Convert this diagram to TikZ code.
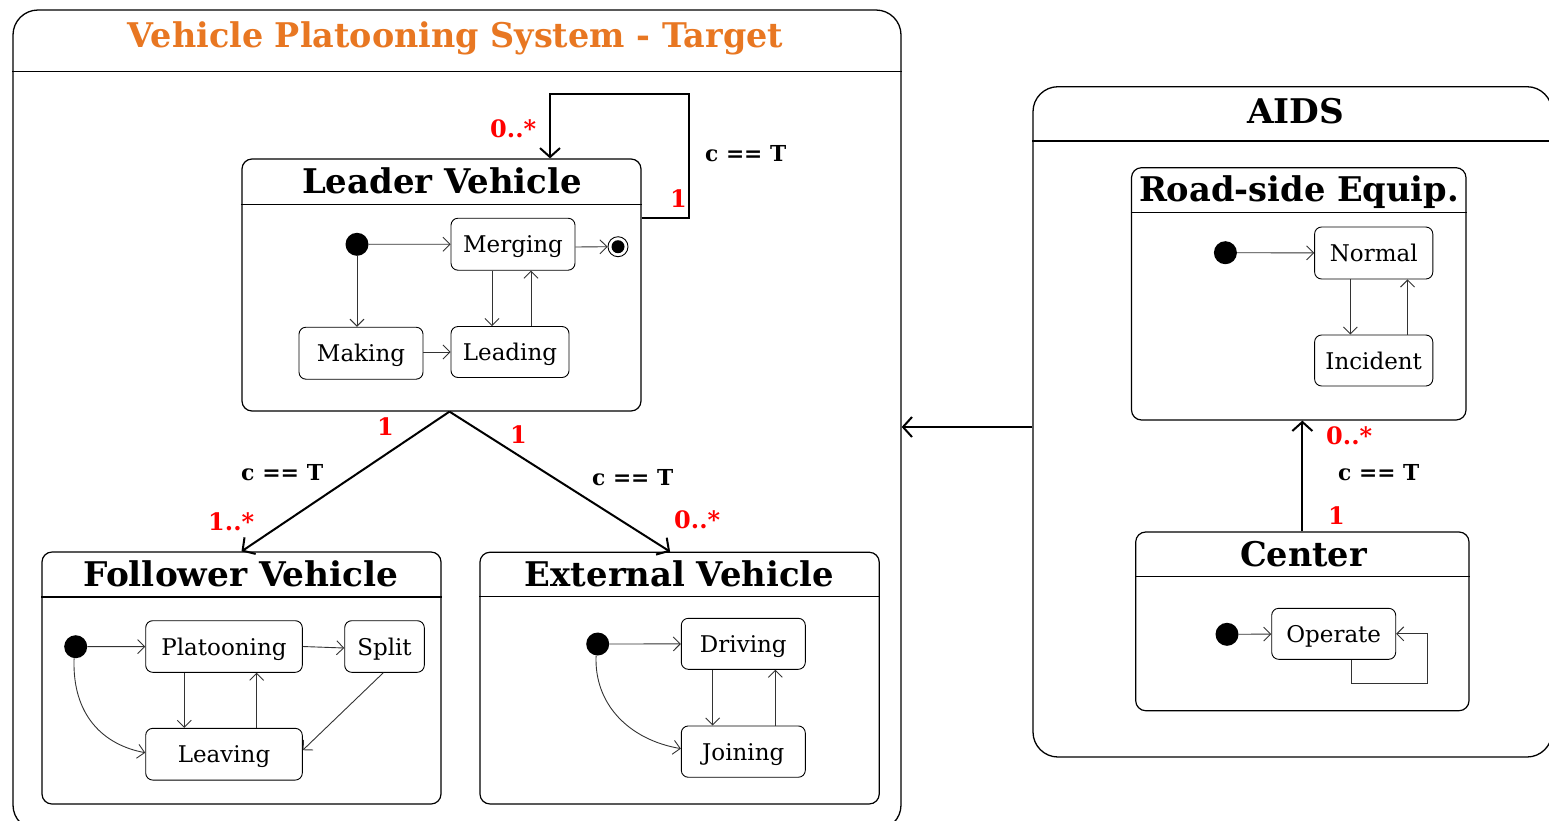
\documentclass[tikz,border=0pt]{standalone}
\usepackage{fontspec}
\usepackage{graphicx}
\setmainfont{DejaVu Serif}
\usetikzlibrary{arrows.meta,calc}
\definecolor{titleorange}{HTML}{E87722}
\definecolor{multred}{HTML}{FF0000}
\definecolor{wire}{HTML}{333333}
% squeeze a label to a given width, keeping its height
\newcommand{\fw}[2]{\resizebox{#1}{\height}{#2}}

\begin{document}
\begin{tikzpicture}[x=1pt,y=-1pt,
  outer/.style={draw, line width=1.3pt, rounded corners=25pt, inner sep=0pt},
  comp/.style={draw, line width=1.2pt, rounded corners=10pt, inner sep=0pt},
  hdr/.style={line width=1.2pt},
  state/.style={draw, line width=0.9pt, rounded corners=7pt, inner sep=0pt,
    text height=17pt, text depth=0pt, font=\fontsize{23}{26}\selectfont},
  init/.style={circle, fill=black, inner sep=0pt, minimum size=23pt},
  final/.style={circle, draw, line width=0.9pt, inner sep=0pt, minimum size=20pt},
  ctitle/.style={font=\bfseries\fontsize{34}{38}\selectfont, inner sep=0pt},
  mult/.style={text=multred, font=\bfseries\fontsize{24}{26}\selectfont, inner sep=0pt, anchor=base west},
  guard/.style={font=\bfseries\fontsize{22}{24}\selectfont, inner sep=0pt, anchor=base west},
  trans/.style={draw=wire, line width=0.9pt, -{Straight Barb[length=7pt,width=14pt,line width=0.9pt]}},
  assoc/.style={line width=2pt, -{Straight Barb[length=9pt,width=20pt,line width=2pt]}},
]
\clip (0,0) rectangle (1549,820);

% ---------------- Vehicle Platooning System ----------------
\node[outer, minimum width=888pt, minimum height=820pt] (vps) at (457,420) {};
\draw[hdr] ($(vps.north west)+(0,62)$) -- ($(vps.north east)+(0,62)$);
\node[inner sep=0pt, anchor=base, text=titleorange, font=\bfseries\fontsize{34}{38}\selectfont]
  (vpsT) at (455.5,47) {\fw{655pt}{Vehicle Platooning System - Target}};

% Leader Vehicle
\node[comp, minimum width=399pt, minimum height=252pt] (leader) at (441.5,285) {};
\draw[hdr] ($(leader.north west)+(0,46)$) -- ($(leader.north east)+(0,46)$);
\node[ctitle, anchor=base] (leaderT) at (442,193) {\fw{280pt}{Leader Vehicle}};
\node[init] (ld) at (357,244.3) {};
\node[state, minimum width=124pt, minimum height=52pt] (merging) at (513,244.2) {Merging};
\node[final] (fin) at (618,246.7) {};
\fill (fin.center) circle (6.5pt);
\node[state, minimum width=124pt, minimum height=52pt] (making) at (361,353.2) {Making};
\node[state, minimum width=118pt, minimum height=51pt] (leading) at (510,352) {Leading};
\draw[trans] (ld) -- (merging);
\draw[trans] (merging.east |- 0,247) -- (fin.west);
\draw[trans] (ld) -- (ld |- making.north);
\draw[trans] (making.east |- 0,352) -- (leading.west);
\draw[trans] (merging.south -| 492,0) -- (leading.north -| 492,0);
\draw[trans] (leading.north -| 531,0) -- (merging.south -| 531,0);

% Follower Vehicle
\node[comp, minimum width=399pt, minimum height=252pt] (follower) at (241.5,678) {};
\draw[hdr] ($(follower.north west)+(0,45.5)$) -- ($(follower.north east)+(0,45.5)$);
\node[ctitle, anchor=base] (followerT) at (241,586) {\fw{315pt}{Follower Vehicle}};
\node[init] (fd) at (75.7,646.7) {};
\node[state, minimum width=156.6pt, minimum height=51.6pt] (plat) at (224,646.5) {Platooning};
\node[state, minimum width=79.6pt, minimum height=51.6pt] (split) at (384.5,646.5) {Split};
\node[state, minimum width=156.6pt, minimum height=51.7pt] (leav) at (224,754.2) {Leaving};
\draw[trans] (fd) -- (plat);
\draw[trans] (plat.east) -- (split.west |- 0,648);
\draw[trans] (plat.south -| 184.3,0) -- (leav.north -| 184.3,0);
\draw[trans] (leav.north -| 256.7,0) -- (plat.south -| 256.7,0);
\draw[trans] (split.south -| 383.3,0) -- ([yshift=4pt]leav.east);
\draw[trans] (fd.262) .. controls (72,716) and (104,745) .. ([yshift=1.5pt]leav.west);

% External Vehicle
\node[comp, minimum width=399.3pt, minimum height=251.7pt] (ext) at (679.6,678.1) {};
\draw[hdr] ($(ext.north west)+(0,44.5)$) -- ($(ext.north east)+(0,44.5)$);
\node[ctitle, anchor=base] (extT) at (679.5,586) {\fw{309pt}{External Vehicle}};
\node[init] (ed) at (597.7,644) {};
\node[state, minimum width=124pt, minimum height=51pt] (driving) at (743.3,643.8) {Driving};
\node[state, minimum width=124pt, minimum height=51.3pt] (joining) at (743.3,751.6) {Joining};
\draw[trans] (ed) -- (driving);
\draw[trans] (driving.south -| 712.7,0) -- (joining.north -| 712.7,0);
\draw[trans] (joining.north -| 775.3,0) -- (driving.south -| 775.3,0);
\draw[trans] (ed.262) .. controls (594,705) and (630,740) .. ([yshift=3pt]joining.west);

% associations inside the platoon
\draw[assoc] ([xshift=8pt]leader.south) -- (follower.north);
\draw[assoc] ([xshift=8pt]leader.south) -- ([xshift=-9.5pt]ext.north);
\draw[assoc] (leader.north east |- 0,218) -- (689,218) -- (689,94) -- (550,94) -- (leader.north -| 550,0);

\node[mult] (m1) at (490,137) {0..*};
\node[mult] (m2) at (670,207) {1};
\node[guard] (g1) at (705,161) {\fw{81pt}{c == T}};
\node[mult] (m3) at (377,435) {1};
\node[guard] (g2) at (241,480) {\fw{82pt}{c == T}};
\node[mult] (m4) at (208,530) {1..*};
\node[mult] (m5) at (510,443) {1};
\node[guard] (g3) at (592,485) {\fw{81pt}{c == T}};
\node[mult] (m6) at (674,528) {0..*};

% ---------------- AIDS ----------------
\node[outer, minimum width=519pt, minimum height=670.3pt] (aids) at (1292.5,421.85) {};
\draw[hdr] ($(aids.north west)+(0,55)$) -- ($(aids.north east)+(0,55)$);
\node[ctitle, anchor=base] (aidsT) at (1295.5,123) {\fw{97pt}{AIDS}};

% Road-side Equipment
\node[comp, minimum width=334.5pt, minimum height=252.3pt] (road) at (1298.75,293.85) {};
\draw[hdr] ($(road.north west)+(0,45.6)$) -- ($(road.north east)+(0,45.6)$);
\node[ctitle, anchor=base] (roadT) at (1299,201) {\fw{320pt}{Road-side Equip.}};
\node[init] (rd) at (1225.4,252.7) {};
\node[state, minimum width=118.2pt, minimum height=52pt] (normal) at (1373.7,253) {Normal};
\node[state, minimum width=118.2pt, minimum height=51pt] (incident) at (1373.7,360.5) {Incident};
\draw[trans] (rd) -- (normal);
\draw[trans] (normal.south -| 1350.4,0) -- (incident.north -| 1350.4,0);
\draw[trans] (incident.north -| 1407.5,0) -- (normal.south -| 1407.5,0);

% Center
\node[comp, minimum width=333.3pt, minimum height=178.7pt] (center) at (1302.35,621.35) {};
\draw[hdr] ($(center.north west)+(0,44.7)$) -- ($(center.north east)+(0,44.7)$);
\node[ctitle, anchor=base] (centerT) at (1303.5,566) {\fw{127pt}{Center}};
\node[init] (cd) at (1227,634.3) {};
\node[state, minimum width=124pt, minimum height=51pt] (op) at (1333.7,633.8) {Operate};
\draw[trans] (cd) -- (op);
\draw[trans] ([xshift=17.6pt]op.south) -- (1351.3,683.3) -- (1427.3,683.3) -- (1427.3,633.8) -- (op.east);

\draw[assoc] (center.north) -- (center.north |- road.south);
\node[mult] (m7) at (1326,444) {0..*};
\node[guard] (g4) at (1338,480) {\fw{81pt}{c == T}};
\node[mult] (m8) at (1328,524) {1};

% AIDS feeds the platoon
\draw[assoc] (aids.west |- 0,427) -- (vps.east |- 0,427);
\end{tikzpicture}
\end{document}
